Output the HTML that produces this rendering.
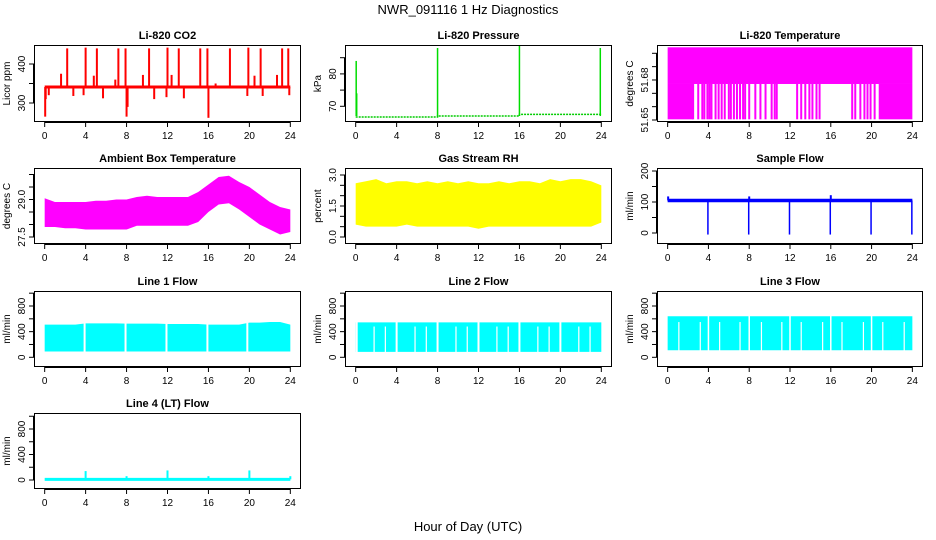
<!DOCTYPE html>
<html><head><meta charset="utf-8"><style>
body{margin:0;background:#fff;}
svg{display:block;font-family:"Liberation Sans",sans-serif;}
</style></head><body>
<svg id="c" width="936" height="540" xmlns="http://www.w3.org/2000/svg">
<rect width="936" height="540" fill="#fff"/>
<text x="468" y="14" text-anchor="middle" font-size="13">NWR_091116  1 Hz Diagnostics</text>
<text x="468" y="531" text-anchor="middle" font-size="13">Hour of Day (UTC)</text>
</svg>
<script>
// ---- data ----
const hours = [0,1,2,3,4,5,6,7,8,9,10,11,12,13,14,15,16,17,18,19,20,21,22,23,24];
const xTicks = [0,4,8,12,16,20,24];
const co2Base = 341;
const co2Spikes = [[0.05,265],[0.1,310],[0.4,320],[1.6,375],[2.2,440],[2.8,318],[3.8,320],[4.0,442],[4.8,370],[5.1,440],[5.7,312],[6.9,360],[7.2,440],[7.9,440],[8.0,265],[8.1,290],[9.6,372],[10.2,440],[10.7,310],[11.9,315],[12.0,442],[12.4,372],[13.1,440],[13.6,312],[15.2,440],[15.9,440],[16.0,262],[16.7,350],[18.1,440],[19.8,318],[19.9,442],[20.5,370],[21.1,440],[21.3,318],[22.7,372],[23.2,440],[23.8,440],[23.9,320]];
const presBase = [[0,66.7],[8,66.7],[8,67.0],[16,67.0],[16,67.5],[24,67.5]];
const presSpikes = [[0.05,84],[0.1,74],[8.0,88],[16.0,89],[23.9,88]];
const tempLow = 51.6505, tempMid = 51.677, tempHigh = 51.7045;
const tempDipSpans = [[0,2.5],[20.7,24]];
const tempDips = [2.5,3.0,3.4,3.6,3.9,4.1,4.3,4.7,5.0,5.3,5.6,6.0,6.2,6.5,6.8,7.1,7.4,7.6,8.0,8.6,9.1,9.6,10.2,10.5,10.7,12.7,13.1,13.5,13.9,14.2,14.6,14.9,18.1,18.4,18.9,19.3,19.6,19.9,20.3];
const ambHi = [29.05,28.9,28.9,28.9,28.9,28.95,28.95,29.0,29.0,29.1,29.15,29.1,29.1,29.1,29.1,29.3,29.6,29.9,29.95,29.7,29.5,29.2,28.9,28.7,28.6];
const ambLo = [27.9,27.9,27.85,27.85,27.8,27.8,27.8,27.8,27.8,27.95,27.95,27.95,27.95,27.95,27.95,28.1,28.5,28.8,28.85,28.6,28.3,28.0,27.8,27.6,27.7];
const rhHi = [2.6,2.7,2.8,2.6,2.7,2.7,2.6,2.7,2.6,2.7,2.6,2.7,2.6,2.6,2.7,2.6,2.7,2.7,2.6,2.8,2.7,2.8,2.8,2.7,2.5];
const rhLo = [0.6,0.5,0.5,0.5,0.5,0.6,0.5,0.5,0.5,0.5,0.5,0.5,0.4,0.5,0.5,0.5,0.5,0.5,0.5,0.5,0.5,0.5,0.5,0.5,0.7];
const sampleBase = 105;
const sampleDrops = [4,8,12,16,20,24];
const sampleSpikes = [[0.05,118],[8.0,118],[16.0,122]];
const line1Hi = [510,510,510,510,530,530,530,530,525,525,525,525,520,520,520,520,510,510,510,510,540,540,550,550,510];
const line1Lo = 90;
const line1Gaps = [3.9,7.9,11.9,15.9,19.8];
const line2Hi = 545, line2Lo = 85;
const line2Gaps = [0.1,4.0,8.0,12.0,16.0,20.0];
const line2PartGaps = [1.8,5.8,9.8,13.8,17.8,21.8,2.9,6.9,10.9,14.9,18.9,22.9];
const line3Hi = 640, line3Lo = 110;
const line3Gaps = [4.0,8.0,12.0,16.0,20.0];
const line3PartGaps = [1.1,3.2,5.1,7.1,9.2,11.2,13.1,15.2,17.1,19.2,21.1,23.2];
const line4Base = 10;
const line4Spikes = [[4.0,140],[8.0,60],[12.0,150],[16.0,60],[20.0,150],[24.0,60]];

// ---- layout ----
const svg = document.getElementById('c');
const NS = 'http://www.w3.org/2000/svg';
const cols = [[34,301],[345,612],[657,923]];
const rows = [[45,122],[168,244],[291,367],[413,489]];
function mk(tag, attrs, parent){const e=document.createElementNS(NS,tag);for(const k in attrs)e.setAttribute(k,attrs[k]);(parent||svg).appendChild(e);return e;}

function panel(name, c, r, title, ylab, y0v, y0p, y1v, y1p, ticks, labels){
  const [L,R]=cols[c],[T,B]=rows[r];
  const g=mk('g',{});
  
  
  const W=R-L;
  const x=h=>L+W*(0.04+0.92*h/24)/1.0;
  const y=v=>y0p+(v-y0v)*(y1p-y0p)/(y1v-y0v);
  const clip='clip-'+name;
  const cp=mk('clipPath',{id:clip},g);mk('rect',{x:L,y:T,width:W,height:B-T},cp);
  const plot=mk('g',{'clip-path':'url(#'+clip+')'},g);
  
  
  const t=mk('text',{x:(L+R)/2,y:T-6,'text-anchor':'middle','font-size':'11','font-weight':'bold'},g);t.textContent=title;
  
  
  const xa=mk('g',{stroke:'#000','stroke-width':1},g);
  
  
  mk('line',{x1:x(0),x2:x(24),y1:B+0.5,y2:B+0.5},xa);
  xTicks.forEach(h=>{mk('line',{x1:x(h),x2:x(h),y1:B,y2:B+5},xa);
    const tl=mk('text',{x:x(h),y:B+17,'text-anchor':'middle','font-size':'10',stroke:'none'},g);tl.textContent=h;});
  const ya=mk('g',{stroke:'#000'},g);
  
  
  mk('line',{x1:L-0.5,x2:L-0.5,y1:y(ticks[0]),y2:y(ticks[ticks.length-1])},ya);
  ticks.forEach(v=>mk('line',{x1:L,x2:L-5,y1:y(v),y2:y(v)},ya));
  labels.forEach(v=>{const ty=y(parseFloat(v));const tl=mk('text',{x:L-9,y:ty,'text-anchor':'middle','font-size':'10',transform:`rotate(-90 ${L-9} ${ty})`},g);tl.textContent=v;});
  const yl=mk('text',{x:L-24,y:(T+B)/2,'text-anchor':'middle','font-size':'10',transform:`rotate(-90 ${L-24} ${(T+B)/2})`},g);yl.textContent=ylab;
  
  
  mk('rect',{x:L+0.5,y:T+0.5,width:W-1,height:B-T-1,fill:'none',stroke:'#000'},g);
  return {x,y,plot};
}
function vline(p,h,a,b,col,w){mk('line',{x1:p.x(h),x2:p.x(h),y1:p.y(a),y2:p.y(b),stroke:col,'stroke-width':w||1.5},p.plot);}
function band(p,hi,lo,col){let pts=hours.map((h,i)=>p.x(h)+','+p.y(hi[i]));pts=pts.concat(hours.slice().reverse().map((h,j)=>p.x(h)+','+p.y(lo[hours.length-1-j])));mk('polygon',{points:pts.join(' '),fill:col},p.plot);}

// CO2
let p=panel('co2',0,0,'Li-820 CO2','Licor ppm',300,103,400,64,[300,350,400],['300','400']);
mk('line',{x1:p.x(0),x2:p.x(24),y1:p.y(co2Base),y2:p.y(co2Base),stroke:'#f00','stroke-width':3},p.plot);
co2Spikes.forEach(s=>vline(p,s[0],co2Base,s[1],'#f00',2));
// Pressure
p=panel('pressure',1,0,'Li-820 Pressure','kPa',70,106.3,85,57.7,[70,75,80,85],['70','80']);
mk('polyline',{points:presBase.map(d=>p.x(d[0])+','+p.y(d[1])).join(' '),fill:'none',stroke:'#0c0','stroke-width':1.5,'stroke-dasharray':'2,1'},p.plot);
presSpikes.forEach(s=>vline(p,s[0],67,s[1],'#0d0',1.5));
// Temperature
p=panel('temperature',2,0,'Li-820 Temperature','degrees C',51.65,120,51.70,53.3,[51.65,51.66,51.67,51.68,51.69,51.70],['51.65','51.68']);
mk('rect',{x:p.x(0),y:p.y(tempHigh),width:p.x(24)-p.x(0),height:p.y(tempMid)-p.y(tempHigh),fill:'#f0f'},p.plot);
tempDipSpans.forEach(s=>mk('rect',{x:p.x(s[0]),y:p.y(tempMid),width:p.x(s[1])-p.x(s[0]),height:p.y(tempLow)-p.y(tempMid),fill:'#f0f'},p.plot));
tempDips.forEach(h=>vline(p,h,tempMid,tempLow,'#f0f',2));
// Ambient
p=panel('ambient',0,1,'Ambient Box Temperature','degrees C',27.5,237,29.0,199.5,[27.5,28.0,28.5,29.0,29.5,30.0],['27.5','29.0']);
band(p,ambHi,ambLo,'#f0f');
// RH
p=panel('rh',1,1,'Gas Stream RH','percent',0,237,3,175,[0,0.5,1,1.5,2,2.5,3],['0.0','1.5','3.0']);
band(p,rhHi,rhLo,'#ff0');
// Sample flow
p=panel('sample-flow',2,1,'Sample Flow','ml/min',0,233,200,171,[0,50,100,150,200],['0','100','200']);
mk('line',{x1:p.x(0),x2:p.x(24),y1:p.y(sampleBase),y2:p.y(sampleBase),stroke:'#00f','stroke-width':3.5},p.plot);
sampleDrops.forEach(h=>vline(p,h-0.05,sampleBase,-5,'#00f',1.5));
sampleSpikes.forEach(s=>vline(p,s[0],sampleBase,s[1],'#00f',2));
// Line flows
const fT=[0,200,400,600,800,1000], fL=['0','400','800'];
p=panel('line1-flow',0,2,'Line 1 Flow','ml/min',0,357.3,800,306,fT,fL);
band(p,line1Hi,hours.map(()=>line1Lo),'#0ff');
line1Gaps.forEach(h=>vline(p,h,line1Lo-10,700,'#fff',2));
p=panel('line2-flow',1,2,'Line 2 Flow','ml/min',0,357.3,800,306,fT,fL);
band(p,hours.map(()=>line2Hi),hours.map(()=>line2Lo),'#0ff');
line2Gaps.forEach(h=>vline(p,h,line2Lo-10,700,'#fff',2));
line2PartGaps.forEach(h=>vline(p,h,line2Lo-10,480,'#fff',1.2));
p=panel('line3-flow',2,2,'Line 3 Flow','ml/min',0,357.3,800,306,fT,fL);
band(p,hours.map(()=>line3Hi),hours.map(()=>line3Lo),'#0ff');
line3Gaps.forEach(h=>vline(p,h,line3Lo-10,800,'#fff',1.5));
line3PartGaps.forEach(h=>vline(p,h,line3Lo-10,550,'#fff',1.2));
p=panel('line4-flow',0,3,'Line 4 (LT) Flow','ml/min',0,480,800,429,fT,fL);
mk('line',{x1:p.x(0),x2:p.x(24),y1:p.y(line4Base),y2:p.y(line4Base),stroke:'#0ff','stroke-width':3},p.plot);
line4Spikes.forEach(s=>vline(p,s[0],line4Base,s[1],'#0ff',2));
</script>
</body></html>
